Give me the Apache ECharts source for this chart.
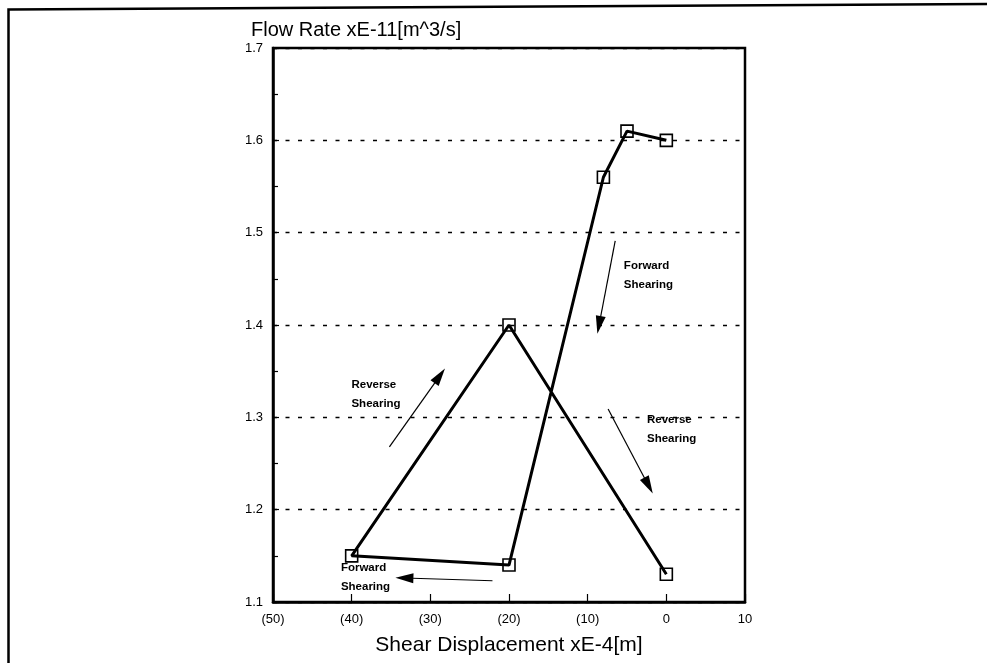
<!DOCTYPE html>
<html>
<head>
<meta charset="utf-8">
<script src="https://cdn.jsdelivr.net/npm/echarts@6/dist/echarts.min.js"></script>
<style>
html,body{margin:0;padding:0;background:#fff;}
#chart{width:987px;height:663px;}
</style>
</head>
<body>
<div id="chart"></div>
<script>
// Data: shear displacement (xE-4 m) and flow rate (xE-11 m^3/s), in test order
var shearDisp = [0, -5, -8, -20, -40, -20, 0];
var flowRate  = [1.60, 1.61, 1.56, 1.14, 1.15, 1.40, 1.13];

// Axis ticks
var xTicks = [-50, -40, -30, -20, -10, 0, 10];
var yTicks = [1.1, 1.2, 1.3, 1.4, 1.5, 1.6, 1.7];

// Annotation arrows (data coordinates): start -> tip
var arrowStartX = [-6.5, -22.1, -35.2, -7.4];
var arrowStartY = [1.491, 1.123, 1.268, 1.309];
var arrowTipX   = [-8.55, -33.3, -28.8, -2.26];
var arrowTipY   = [1.400, 1.126, 1.345, 1.226];

// Annotation texts (data coordinates, left edge / vertical middle)
var noteText = ['Forward\nShearing', 'Forward\nShearing', 'Reverse\nShearing', 'Reverse\nShearing'];
var noteX    = [-5.4, -41.37, -40.03, -2.46];
var noteY    = [1.454, 1.1266, 1.3248, 1.2868];

var FONT = '"Liberation Sans", Arial, sans-serif';

var lineData = shearDisp.map(function (x, i) { return [x, flowRate[i]]; });
var arrowLines = arrowStartX.map(function (x, i) {
  return [{coord: [x, arrowStartY[i]]}, {coord: [arrowTipX[i], arrowTipY[i]]}];
});
var noteData = noteText.map(function (t, i) { return {value: [noteX[i], noteY[i]], name: t}; });

function fmtX(v) { return v < 0 ? '(' + (-v) + ')' : String(v); }

var chart = echarts.init(document.getElementById('chart'), null, {renderer: 'canvas'});
chart.setOption({
  backgroundColor: '#fff',
  animation: false,
  textStyle: {fontFamily: FONT},
  title: {
    text: 'Flow Rate xE-11[m^3/s]',
    left: 246, top: 15,
    textStyle: {fontFamily: FONT, fontSize: 20, fontWeight: 'normal', color: '#000'}
  },
  graphic: [
    {type: 'polyline', shape: {points: [[8.5, 663], [8.5, 9.5], [987, 4]]},
     style: {stroke: '#000', lineWidth: 2.5, fill: null}, silent: true}
  ],
  grid: {
    left: 273, right: 242, top: 48, bottom: 61,
    containLabel: false, outerBoundsMode: 'none',
    show: true, borderColor: '#000', borderWidth: 2.5, backgroundColor: 'transparent'
  },
  xAxis: {
    type: 'value', min: xTicks[0], max: xTicks[xTicks.length - 1], interval: 10,
    name: 'Shear Displacement xE-4[m]', nameLocation: 'middle', nameGap: 33,
    nameTextStyle: {fontFamily: FONT, fontSize: 21, color: '#000'},
    axisLine: {show: true, onZero: false, lineStyle: {color: '#000', width: 2.5}},
    axisTick: {show: true, inside: true, length: 8, lineStyle: {color: '#000', width: 1.2}},
    axisLabel: {color: '#000', fontSize: 13, fontFamily: FONT, margin: 11, formatter: fmtX},
    splitLine: {show: false}
  },
  yAxis: {
    type: 'value', min: yTicks[0], max: yTicks[yTicks.length - 1], interval: 0.1,
    axisLine: {show: true, onZero: false, lineStyle: {color: '#000', width: 2.5}},
    axisTick: {show: true, inside: true, length: 6, lineStyle: {color: '#000', width: 1.2}},
    minorTick: {show: true, splitNumber: 2, length: 5, lineStyle: {color: '#000', width: 1.2}},
    axisLabel: {color: '#000', fontSize: 13, fontFamily: FONT, margin: 10,
      formatter: function (v) { return v.toFixed(1); }},
    splitLine: {show: true, lineStyle: {color: '#000', width: 1.3, type: [4, 8.5]}}
  },
  series: [
    {
      type: 'line', data: lineData, z: 5,
      symbol: 'rect', symbolSize: 12,
      lineStyle: {color: '#000', width: 3},
      itemStyle: {color: 'rgba(0,0,0,0)', borderColor: '#000', borderWidth: 1.6},
      markLine: {
        silent: true, symbol: ['none', 'triangle'], symbolSize: [10, 18],
        label: {show: false},
        lineStyle: {color: '#000', width: 1.2, type: 'solid'},
        data: arrowLines
      }
    },
    {
      type: 'scatter', data: noteData, symbolSize: 0, silent: true, z: 6,
      itemStyle: {color: '#000', opacity: 1},
      label: {
        show: true, position: 'right', distance: 0, align: 'left',
        formatter: function (p) { return p.name; },
        fontFamily: FONT, fontSize: 11.5, fontWeight: 'bold', lineHeight: 18.5, color: '#000'
      }
    }
  ]
});
</script>
</body>
</html>
